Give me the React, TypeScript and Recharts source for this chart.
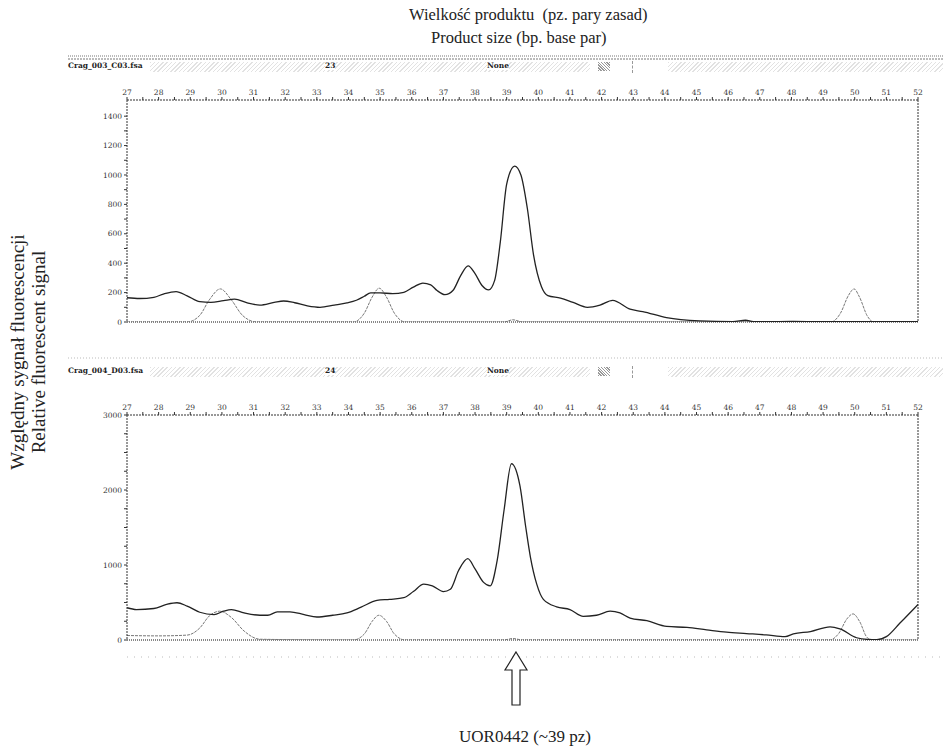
import React from 'react';
import { LineChart, Line, XAxis, YAxis, ReferenceLine } from 'recharts';

// fragment size axis (bp)
const bpTicks = [27, 27.5, 28, 28.5, 29, 29.5, 30, 30.5, 31, 31.5, 32, 32.5, 33, 33.5, 34, 34.5, 35, 35.5, 36, 36.5, 37, 37.5, 38, 38.5, 39, 39.5, 40, 40.5, 41, 41.5, 42, 42.5, 43, 43.5, 44, 44.5, 45, 45.5, 46, 46.5, 47, 47.5, 48, 48.5, 49, 49.5, 50, 50.5, 51, 51.5, 52];
const topYTicks = [0, 100, 200, 300, 400, 500, 600, 700, 800, 900, 1000, 1100, 1200, 1300, 1400];
const botYTicks = [0, 250, 500, 750, 1000, 1250, 1500, 1750, 2000, 2250, 2500, 2750, 3000];

// Crag_003_C03 - main trace
const topMainBp = [27.0, 27.4, 27.85, 28.15, 28.55, 28.9, 29.3, 29.65, 30.05, 30.4, 30.8, 31.2, 31.65, 31.95, 32.3, 32.7, 33.1, 33.55, 33.95, 34.25, 34.5, 34.7, 35.0, 35.4, 35.75, 36.05, 36.35, 36.6, 36.8, 37.05, 37.3, 37.55, 37.78, 38.0, 38.22, 38.43, 38.62, 38.8, 39.0, 39.25, 39.45, 39.65, 39.85, 40.1, 40.3, 40.7, 41.1, 41.55, 41.95, 42.35, 42.9, 43.3, 44.05, 45.1, 46.15, 46.55, 46.8, 47.2, 48.0, 49.0, 50.0, 51.0, 52.0];
const topMain = [165, 160, 168, 190, 207, 178, 138, 133, 145, 155, 130, 115, 133, 143, 131, 110, 100, 115, 130, 148, 175, 198, 198, 193, 202, 237, 265, 253, 214, 186, 214, 317, 382, 329, 248, 218, 283, 547, 938, 1060, 1000, 777, 455, 240, 180, 163, 133, 100, 115, 147, 87, 71, 30, 8, 3, 12, 2, 2, 4, 2, 3, 2, 2];
// Crag_003_C03 - size standard
const topDyeBp = [27, 28.9, 29.3, 29.6, 29.95, 30.3, 30.65, 31.1, 34.15, 34.5, 34.75, 34.97, 35.2, 35.45, 35.8, 38.9, 39.2, 39.5, 49.25, 49.55, 49.8, 49.98, 50.15, 50.4, 50.6, 52];
const topDye = [0, 0, 45, 150, 225, 150, 45, 0, 0, 60, 170, 230, 170, 60, 0, 0, 15, 0, 0, 60, 180, 225, 170, 40, 0, 0];

// Crag_004_D03 - main trace
const botMainBp = [27.0, 27.3, 27.85, 28.25, 28.58, 28.9, 29.3, 29.75, 30.05, 30.3, 30.7, 31.2, 31.45, 31.75, 32.15, 32.6, 33.0, 33.5, 33.95, 34.4, 34.9, 35.3, 35.75, 36.05, 36.38, 36.65, 37.0, 37.22, 37.48, 37.77, 38.0, 38.27, 38.48, 38.7, 38.92, 39.15, 39.42, 39.6, 39.75, 39.95, 40.16, 40.58, 41.0, 41.42, 41.84, 42.27, 42.58, 42.9, 43.43, 44.06, 44.7, 45.32, 45.95, 46.58, 47.2, 47.8, 48.06, 48.6, 49.22, 49.53, 50.06, 50.4, 50.7, 51.0, 51.43, 52.0];
const botMain = [430, 406, 420, 474, 497, 452, 370, 339, 384, 406, 361, 330, 330, 375, 375, 339, 307, 330, 361, 438, 528, 542, 564, 646, 745, 722, 646, 677, 926, 1084, 948, 768, 722, 1061, 1740, 2350, 2054, 1513, 1106, 745, 542, 442, 406, 316, 330, 384, 361, 293, 257, 181, 167, 135, 104, 86, 68, 45, 81, 113, 176, 149, 30, 8, 5, 45, 226, 474];
// Crag_004_D03 - size standard
const botDyeBp = [27, 28.0, 28.9, 29.3, 29.6, 29.93, 30.3, 30.7, 31.2, 34.15, 34.5, 34.75, 34.96, 35.2, 35.45, 35.8, 38.9, 39.2, 39.5, 49.2, 49.5, 49.75, 49.95, 50.15, 50.4, 50.6, 52];
const botDye = [60, 55, 65, 160, 320, 384, 300, 120, 10, 0, 80, 250, 330, 250, 80, 0, 0, 20, 0, 0, 90, 280, 348, 250, 30, 0, 0];

const zip = (xs: number[], ys: number[]) => xs.map((bp, i) => ({ bp, v: ys[i] }));

const tickFont = { fontSize: 7.5, fill: '#333', fontFamily: 'DejaVu Serif' };

type PanelProps = {
  top: number;
  height: number;
  yMax: number;
  yTicks: number[];
  labelStep: number;
  main: { bp: number; v: number }[];
  dye: { bp: number; v: number }[];
};

const Panel = ({ top, height, yMax, yTicks, labelStep, main, dye }: PanelProps) => (
  <div style={{ position: 'absolute', left: 0, top }}>
    <LineChart width={943} height={height} margin={{ top: 2, right: 25, bottom: 5, left: 87 }}>
      <XAxis
        type="number"
        dataKey="bp"
        orientation="top"
        domain={[27, 52]}
        ticks={bpTicks}
        interval={0}
        allowDataOverflow
        height={20}
        tickSize={3}
        tickFormatter={(v: number) => (Number.isInteger(v) ? String(v) : '')}
        axisLine={{ stroke: '#333', strokeDasharray: '2 1' }}
        tickLine={{ stroke: '#333' }}
        tick={tickFont}
      />
      <YAxis
        type="number"
        domain={[0, yMax]}
        ticks={yTicks}
        interval={0}
        allowDataOverflow
        width={40}
        tickSize={3}
        tickFormatter={(v: number) => (v % labelStep === 0 ? String(v) : '')}
        axisLine={{ stroke: '#333', strokeDasharray: '2 1' }}
        tickLine={{ stroke: '#333' }}
        tick={tickFont}
      />
      <ReferenceLine x={52} stroke="#333" strokeDasharray="2 1" />
      <ReferenceLine y={0} stroke="#888" strokeDasharray="1 1" strokeWidth={2} />
      <Line data={dye} dataKey="v" type="monotone" stroke="#777" strokeWidth={1} strokeDasharray="3 1" dot={false} isAnimationActive={false} />
      <Line data={main} dataKey="v" type="monotone" stroke="#222" strokeWidth={1.3} dot={false} isAnimationActive={false} />
    </LineChart>
  </div>
);

const speckle = 'repeating-linear-gradient(135deg, #e2e2e2 0 1px, #fff 1px 3px)';

const Header = ({ top, file, num }: { top: number; file: string; num: string }) => (
  <div style={{ position: 'absolute', left: 0, top, width: 943, height: 12, fontFamily: '"DejaVu Serif", serif' }}>
    <div style={{ position: 'absolute', left: 150, top: 1, width: 440, height: 10, background: speckle }} />
    <div style={{ position: 'absolute', left: 598, top: 1, width: 12, height: 9, background: 'repeating-linear-gradient(45deg, #999 0 1px, #fff 1px 2px)' }} />
    <div style={{ position: 'absolute', left: 632, top: 0, height: 12, borderLeft: '1px dashed #999' }} />
    <div style={{ position: 'absolute', left: 668, top: 1, width: 275, height: 10, background: speckle }} />
    <span style={{ position: 'absolute', left: 68, top: 0, fontSize: 7.5, fontWeight: 'bold', background: '#fff', color: '#222' }}>{file}</span>
    <span style={{ position: 'absolute', left: 325, top: 0, fontSize: 7.5, fontWeight: 'bold', background: '#fff', color: '#222' }}>{num}</span>
    <span style={{ position: 'absolute', left: 487, top: 0, fontSize: 7.5, fontWeight: 'bold', background: '#fff', color: '#222' }}>None</span>
  </div>
);

export default function App() {
  return (
    <div style={{ position: 'absolute', left: 0, top: 0, width: 943, height: 751, background: '#fff', overflow: 'hidden', fontFamily: '"Liberation Serif", serif', color: '#222' }}>
      <div style={{ position: 'absolute', left: 409, top: 5, fontSize: 16.5, lineHeight: '20px', whiteSpace: 'pre' }}>Wielkość produktu  (pz. pary zasad)</div>
      <div style={{ position: 'absolute', left: 431, top: 28, fontSize: 16.5, lineHeight: '20px', whiteSpace: 'pre' }}>Product size (bp. base par)</div>

      <div style={{ position: 'absolute', left: 18 - 150, top: 352 - 11, width: 300, height: 22, lineHeight: '22px', fontSize: 19, textAlign: 'center', transform: 'rotate(-90deg)', whiteSpace: 'nowrap' }}>Względny sygnał fluorescencji</div>
      <div style={{ position: 'absolute', left: 39 - 150, top: 352 - 11, width: 300, height: 22, lineHeight: '22px', fontSize: 19, textAlign: 'center', transform: 'rotate(-90deg)', whiteSpace: 'nowrap' }}>Relative fluorescent signal</div>

      <svg width={943} height={751} style={{ position: 'absolute', left: 0, top: 0 }}>
        <line x1={68} y1={56} x2={943} y2={56} stroke="#777" strokeDasharray="1 1" />
        <line x1={68} y1={59} x2={943} y2={59} stroke="#777" strokeDasharray="2 1" />
        <line x1={68} y1={358} x2={943} y2={358} stroke="#bbb" strokeDasharray="1 2" />
        <line x1={127} y1={657} x2={943} y2={657} stroke="#bbb" strokeDasharray="1 6" />
        <polygon points="516,652 527,670 520,670 520,705 512,705 512,670 505,670" fill="#fff" stroke="#222" strokeWidth={1.2} />
      </svg>

      <Header top={61} file="Crag_003_C03.fsa" num="23" />
      <Panel top={78} height={249} yMax={1510} yTicks={topYTicks} labelStep={200} main={zip(topMainBp, topMain)} dye={zip(topDyeBp, topDye)} />

      <Header top={366} file="Crag_004_D03.fsa" num="24" />
      <Panel top={393} height={252} yMax={3000} yTicks={botYTicks} labelStep={1000} main={zip(botMainBp, botMain)} dye={zip(botDyeBp, botDye)} />

      <div style={{ position: 'absolute', left: 0, width: 1050, top: 726, fontSize: 17, lineHeight: '22px', textAlign: 'center' }}>UOR0442 (~39 pz)</div>
    </div>
  );
}
